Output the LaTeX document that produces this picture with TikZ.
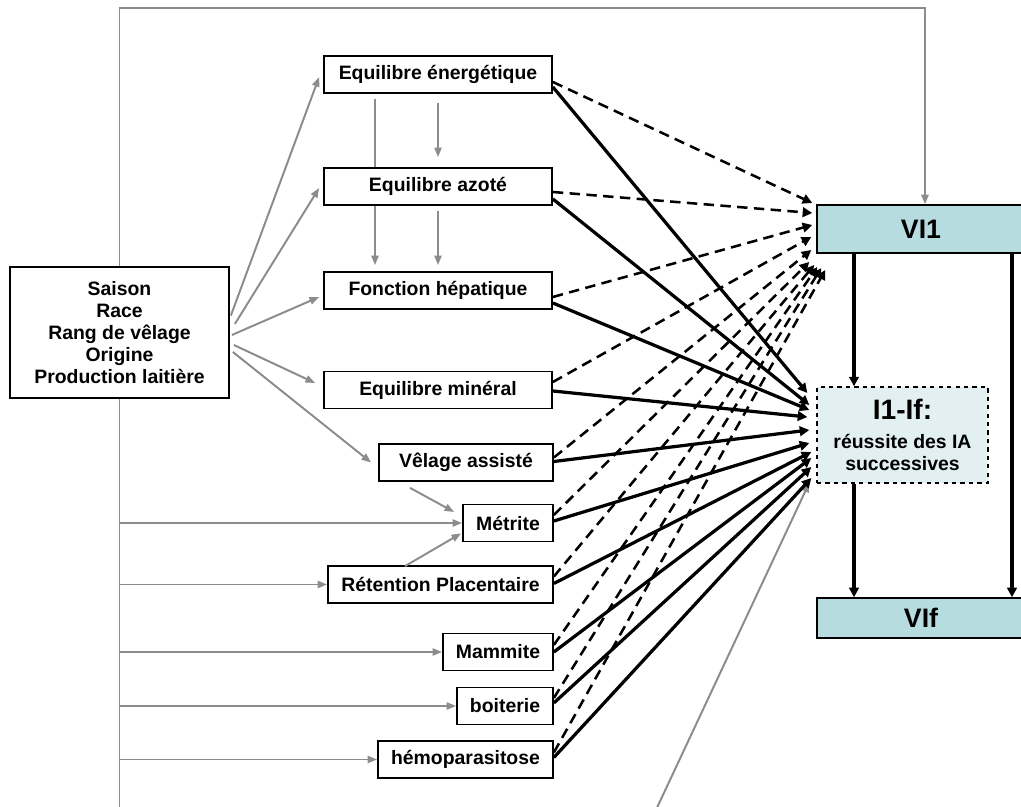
\documentclass[tikz,border=0pt]{standalone}
\usepackage{fontspec}
\setmainfont{Liberation Sans}
\usetikzlibrary{arrows.meta,calc,backgrounds}
\definecolor{linegray}{HTML}{8C8C8C}
\definecolor{vifill}{HTML}{B7DCDF}
\definecolor{iafill}{HTML}{E2F0F2}

\begin{document}
\begin{tikzpicture}[x=0.025cm, y=-0.025cm,
  box/.style={rectangle, draw, line width=1.2pt, fill=white, minimum width=#1, minimum height=0.925cm, inner sep=0pt, align=center, font=\fontsize{13.8}{15.6}\selectfont\bfseries},
  vbox/.style={rectangle, draw, line width=1pt, fill=vifill, minimum width=5.2cm, minimum height=#1, inner sep=0pt, font=\fontsize{19}{22}\selectfont\bfseries},
  garr/.style={-{Triangle[length=2.4mm, width=1.8mm]}, line width=1.4pt, linegray},
  glin/.style={line width=1.4pt, linegray},
  sarr/.style={-{Triangle[length=2.4mm, width=2.4mm]}, line width=2.3pt},
  darr/.style={-{Triangle[length=2.4mm, width=2.4mm]}, line width=1.8pt, dash pattern=on 2.6mm off 1.6mm}
]
  \useasboundingbox (0,0) rectangle (1021,807);

  \node[box=5.475cm, minimum height=3.275cm] (src) at (119.5,332.5) {Saison\\Race\\Rang de vêlage\\Origine\\Production laitière};
  \node[box=5.7cm] (energ) at (438,74.5) {Equilibre énergétique};
  \node[box=5.7cm] (azote) at (438,186.5) {Equilibre azoté};
  \node[box=5.7cm] (hepat) at (438,290.5) {Fonction hépatique};
  \node[box=5.7cm] (mineral) at (438,390) {Equilibre minéral};
  \node[box=4.35cm] (velage) at (466,462.5) {Vêlage assisté};
  \node[box=2.25cm] (metrite) at (508,523) {Métrite};
  \node[box=5.625cm] (retention) at (440.5,584.5) {Rétention Placentaire};
  \node[box=2.75cm] (mammite) at (498,652) {Mammite};
  \node[box=2.4cm] (boiterie) at (505,706) {boiterie};
  \node[box=4.375cm] (hemo) at (465.5,759.5) {hémoparasitose};

  \node[vbox=1.2cm] (vi1) at (921,229) {VI1};
  \node[vbox=1.0cm] (vif) at (921,618) {VIf};
  \node[rectangle, draw, dashed, line width=0.9pt, fill=iafill, minimum width=4.275cm, minimum height=2.4cm, inner sep=0pt, align=center, font=\fontsize{13.8}{15.6}\selectfont\bfseries] (i1if) at (902.5,435)
    {\fontsize{20}{22}\selectfont I1-If:\\[5pt]réussite des IA\\successives};

  \coordinate (ctop) at (925,8);
  \coordinate (cbot) at (119.5,812);
  \coordinate (cfree) at (655,812);

  \begin{scope}[on background layer]
    \draw[garr] ($(energ.south)+(-63,5)$) -- ($(hepat.north)+(-63,-6)$);
  \end{scope}
  \draw[garr] ($(energ.south)+(0,9)$) -- ($(azote.north)+(0,-10)$);
  \draw[garr] ($(azote.south)+(0,5)$) -- ($(hepat.north)+(0,-6)$);

  \draw[garr] (src.north) |- (ctop) -- (ctop |- vi1.north);
  \draw[glin] (src.south) -- (cbot);
  \draw[garr] (src.south |- metrite.west) -- (metrite.west);
  \draw[garr] (src.south |- retention.west) -- (retention.west);
  \draw[garr] (src.south |- mammite.west) -- (mammite.west);
  \draw[garr] (src.south |- boiterie.west) -- (boiterie.west);
  \draw[garr] (src.south |- hemo.west) -- (hemo.west);

  \draw[garr] ($(src.east)+(1,-17)$) -- ($(energ.west)+(-4,2.5)$);
  \draw[garr] ($(src.east)+(5,-8.5)$) -- ($(azote.west)+(-4,1.5)$);
  \draw[garr] ($(src.east)+(2,2.5)$) -- ($(hepat.west)+(-4,6.5)$);
  \draw[garr] ($(src.east)+(4,12.5)$) -- ($(mineral.west)+(-8,-7)$);
  \draw[garr] ($(src.east)+(3,19.5)$) -- ($(velage.west)+(-7,0)$);

  \draw[garr] ($(velage.south)+(-56,6)$) -- ($(metrite.west)+(-8,-11)$);
  \draw[garr] ($(retention.north)+(-35.5,1)$) -- ($(metrite.south west)+(-1,-9)$);
  \draw[garr] (cfree) -- ($(i1if.south west)+(-7,-1)$);

  \draw[darr] ($(energ.east)+(0,7.5)$) -- ($(vi1.west)+(-4,-26)$);
  \draw[darr] ($(azote.east)+(0,5.5)$) -- ($(vi1.west)+(-4,-16)$);
  \draw[darr] ($(hepat.east)+(0,6.5)$) -- ($(vi1.west)+(-4,-4)$);
  \draw[darr] ($(mineral.east)+(0,-8)$) -- ($(vi1.west)+(-5,8)$);
  \draw[darr] ($(velage.east)+(0,-5)$) -- ($(vi1.west)+(-5,21)$);
  \draw[darr] ($(metrite.east)+(0,-8)$) -- ($(vi1.west)+(-7,33)$);
  \draw[darr] ($(retention.east)+(0,-8)$) -- ($(vi1.west)+(-2,36)$);
  \draw[darr] ($(mammite.east)+(0,-7)$) -- ($(vi1.west)+(1,38)$);
  \draw[darr] ($(boiterie.east)+(0,-8)$) -- ($(vi1.west)+(5,39)$);
  \draw[darr] ($(hemo.east)+(0,-7)$) -- ($(vi1.west)+(9,41)$);

  \draw[sarr] ($(energ.east)+(0,12.5)$) -- ($(i1if.west)+(-9,-42)$);
  \draw[sarr] ($(azote.east)+(0,12.5)$) -- ($(i1if.west)+(-7,-30)$);
  \draw[sarr] ($(hepat.east)+(0,12.5)$) -- ($(i1if.west)+(-7,-25)$);
  \draw[sarr] ($(mineral.east)+(0,1)$) -- ($(i1if.west)+(-9,-18)$);
  \draw[sarr] ($(velage.east)+(0,-1)$) -- ($(i1if.west)+(-7,-5)$);
  \draw[sarr] ($(metrite.east)+(0,-2)$) -- ($(i1if.west)+(-7,8)$);
  \draw[sarr] ($(retention.east)+(0,-1)$) -- ($(i1if.west)+(-5,17)$);
  \draw[sarr] (mammite.east) -- ($(i1if.west)+(-5,23)$);
  \draw[sarr] ($(boiterie.east)+(0,-3)$) -- ($(i1if.west)+(-5,32)$);
  \draw[sarr] ($(hemo.east)+(0,-2)$) -- ($(i1if.west)+(-5,43)$);

  \draw[sarr] (854,0 |- vi1.south) -- (854,0 |- i1if.north);
  \draw[sarr] (854,0 |- i1if.south) -- (854,0 |- vif.north);
  \draw[sarr] (1012,0 |- vi1.south) -- (1012,0 |- vif.north);
\end{tikzpicture}
\end{document}
